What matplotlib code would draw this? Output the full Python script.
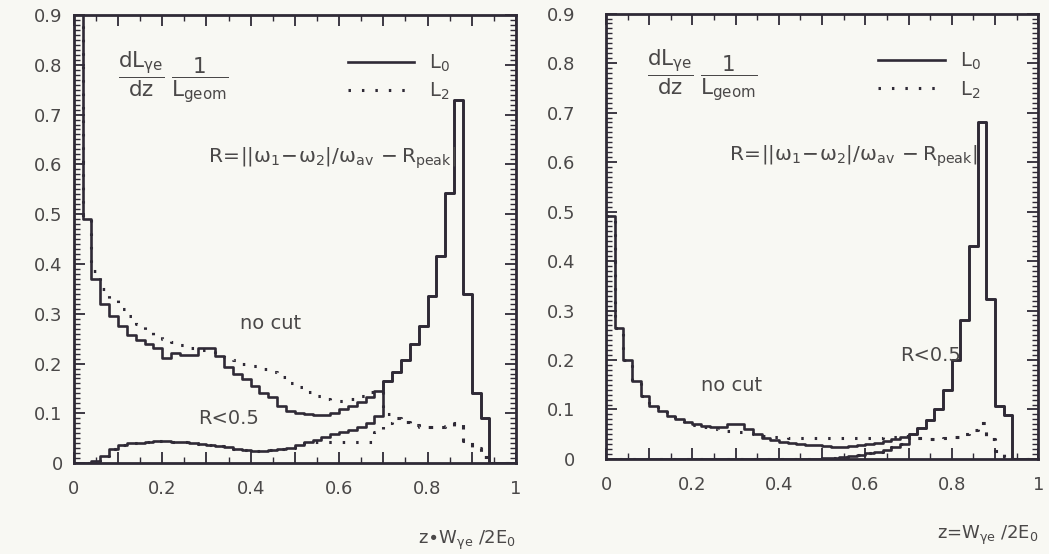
import numpy as np
import matplotlib.pyplot as plt
from matplotlib.ticker import MultipleLocator, FuncFormatter
from matplotlib.lines import Line2D

plt.rcParams['font.family'] = 'DejaVu Sans'
plt.rcParams['mathtext.fontset'] = 'dejavusans'

# 50 bins of width 0.02 in z
edges = np.linspace(0, 1, 51)

# left panel: no cut / R<0.5, L0 (solid) and L2 (dotted)
left_L0_nocut = [1.5, 0.49, 0.37, 0.32, 0.295, 0.275, 0.257, 0.247, 0.24, 0.232,
                 0.212, 0.222, 0.218, 0.218, 0.232, 0.232, 0.215, 0.194, 0.18, 0.168,
                 0.155, 0.14, 0.133, 0.115, 0.105, 0.1, 0.098, 0.097, 0.097, 0.1,
                 0.108, 0.115, 0.122, 0.132, 0.145, 0.164, 0.184, 0.207, 0.24, 0.276,
                 0.336, 0.415, 0.543, 0.73, 0.34, 0.14, 0.09, 0, 0, 0]
left_L2_nocut = [1.5, 0.49, 0.385, 0.35, 0.33, 0.31, 0.295, 0.28, 0.268, 0.258,
                 0.25, 0.243, 0.237, 0.232, 0.228, 0.225, 0.22, 0.213, 0.207, 0.2,
                 0.195, 0.19, 0.183, 0.172, 0.16, 0.152, 0.143, 0.135, 0.128, 0.124,
                 0.125, 0.128, 0.135, 0.142, 0.145, 0.098, 0.09, 0.083, 0.077, 0.073,
                 0.072, 0.072, 0.075, 0.08, 0.045, 0.03, 0.012, 0, 0, 0]
left_L0_cut = [0, 0, 0.004, 0.015, 0.028, 0.036, 0.04, 0.041, 0.043, 0.044,
               0.044, 0.043, 0.042, 0.04, 0.038, 0.036, 0.034, 0.032, 0.029, 0.026,
               0.025, 0.025, 0.026, 0.028, 0.031, 0.036, 0.042, 0.047, 0.053, 0.058,
               0.063, 0.067, 0.072, 0.08, 0.095, 0.164, 0.184, 0.207, 0.24, 0.276,
               0.336, 0.415, 0.543, 0.73, 0.34, 0.14, 0.09, 0, 0, 0]
left_L2_cut = [0, 0, 0.004, 0.015, 0.028, 0.036, 0.04, 0.041, 0.043, 0.044,
               0.044, 0.043, 0.042, 0.04, 0.038, 0.036, 0.034, 0.032, 0.029, 0.026,
               0.025, 0.025, 0.026, 0.028, 0.031, 0.036, 0.04, 0.042, 0.042, 0.042,
               0.042, 0.042, 0.042, 0.042, 0.062, 0.08, 0.09, 0.083, 0.077, 0.073,
               0.072, 0.072, 0.075, 0.08, 0.045, 0.03, 0.012, 0, 0, 0]

# right panel
right_L0_nocut = [0.49, 0.265, 0.2, 0.157, 0.127, 0.108, 0.096, 0.087, 0.08, 0.075,
                  0.071, 0.067, 0.065, 0.065, 0.07, 0.071, 0.06, 0.05, 0.043, 0.039,
                  0.035, 0.033, 0.031, 0.029, 0.028, 0.026, 0.025, 0.025, 0.027, 0.029,
                  0.031, 0.033, 0.036, 0.04, 0.044, 0.05, 0.062, 0.079, 0.1, 0.139,
                  0.2, 0.28, 0.43, 0.68, 0.324, 0.108, 0.089, 0, 0, 0]
right_L2_nocut = [0.49, 0.265, 0.2, 0.157, 0.127, 0.108, 0.095, 0.085, 0.077, 0.072,
                  0.068, 0.064, 0.061, 0.058, 0.056, 0.054, 0.053, 0.05, 0.047, 0.045,
                  0.044, 0.043, 0.043, 0.043, 0.043, 0.043, 0.043, 0.043, 0.043, 0.043,
                  0.043, 0.043, 0.044, 0.045, 0.047, 0.045, 0.042, 0.041, 0.041, 0.042,
                  0.044, 0.05, 0.058, 0.072, 0.04, 0.016, 0.005, 0, 0, 0]
right_L0_cut = [0, 0, 0, 0, 0, 0, 0, 0, 0, 0,
                0, 0, 0, 0, 0, 0, 0, 0, 0, 0,
                0, 0, 0, 0, 0, 0.002, 0.003, 0.005, 0.007, 0.009,
                0.012, 0.015, 0.019, 0.024, 0.03, 0.05, 0.062, 0.079, 0.1, 0.139,
                0.2, 0.28, 0.43, 0.68, 0.324, 0.108, 0.089, 0, 0, 0]
right_L2_cut = [0, 0, 0, 0, 0, 0, 0, 0, 0, 0,
                0, 0, 0, 0, 0, 0, 0, 0, 0, 0,
                0, 0, 0, 0, 0, 0.002, 0.003, 0.005, 0.007, 0.009,
                0.012, 0.015, 0.019, 0.024, 0.03, 0.045, 0.042, 0.041, 0.041, 0.042,
                0.044, 0.05, 0.058, 0.072, 0.04, 0.016, 0.005, 0, 0, 0]

ink = '#2f2a36'
txt = '#4a4848'
bg = '#f8f8f3'
dots = (0, (0.8, 3.6))

fig = plt.figure(figsize=(10.49, 5.54), dpi=100, facecolor=bg)
axL = fig.add_axes([0.0703, 0.164, 0.4216, 0.809])
axR = fig.add_axes([0.5777, 0.1715, 0.412, 0.804])


def hist(ax, vals, ls):
    ax.step(edges, np.append(vals, vals[-1]), where='post', color=ink,
            lw=1.9 if ls == '-' else 2.2, ls=ls, solid_capstyle='butt')


def style(ax, ypad):
    ax.set_facecolor(bg)
    ax.set_xlim(0, 1)
    ax.set_ylim(0, 0.9)
    for s in ax.spines.values():
        s.set_linewidth(2)
        s.set_color(ink)
    ax.xaxis.set_major_locator(MultipleLocator(0.1))
    ax.xaxis.set_minor_locator(MultipleLocator(0.05))
    ax.yaxis.set_major_locator(MultipleLocator(0.1))
    ax.yaxis.set_minor_locator(MultipleLocator(0.01))
    ax.xaxis.set_major_formatter(FuncFormatter(
        lambda v, p: ('%g' % round(v, 1)) if round(v * 10) % 2 == 0 else ''))
    ax.yaxis.set_major_formatter(FuncFormatter(lambda v, p: '%g' % round(v, 1)))
    ax.tick_params(which='both', direction='in', top=True, right=True,
                   color=ink, labelcolor=txt, labelsize=13)
    ax.tick_params(which='major', length=8, width=1.3)
    ax.tick_params(which='minor', length=4, width=1.0)
    ax.tick_params(axis='x', pad=12)
    ax.tick_params(axis='y', pad=ypad)


def annotate(ax, xlab, fx, fy, formx, formy, ncx, ncy, rcx, rcy, legx):
    ax.text(fx, fy, r'$\dfrac{\mathrm{dL_{\gamma e}}}{\mathrm{dz}}\;\dfrac{\mathrm{1}}{\mathrm{L_{geom}}}$',
            transform=ax.transAxes, fontsize=15.5, color=txt, ha='left', va='center')
    ax.text(formx, formy,
            r'$\mathrm{R\!=\!||\omega_1\!-\!\omega_2|/\omega_{av}\,-R_{peak}|}$',
            transform=ax.transAxes, fontsize=14.5, color=txt, ha='right', va='center')
    ax.text(ncx, ncy, 'no cut', transform=ax.transAxes, fontsize=14,
            color=txt, ha='center', va='center')
    ax.text(rcx, rcy, 'R<0.5', transform=ax.transAxes, fontsize=14,
            color=txt, ha='center', va='center')
    handles = [Line2D([], [], color=ink, lw=1.9),
               Line2D([], [], color=ink, lw=2.2, ls=dots)]
    ax.legend(handles, [r'L$_0$', r'L$_2$'], loc='upper left',
              bbox_to_anchor=(legx, 0.955), frameon=False, fontsize=14,
              handlelength=3.4, handletextpad=0.8, labelspacing=0.35,
              labelcolor=txt)
    ax.set_xlabel(xlab, loc='right', fontsize=13, color=txt, labelpad=22)


for vals in [left_L0_cut, left_L0_nocut]:
    hist(axL, vals, '-')
for vals in [left_L2_cut, left_L2_nocut]:
    hist(axL, vals, dots)
for vals in [right_L0_cut, right_L0_nocut]:
    hist(axR, vals, '-')
for vals in [right_L2_cut, right_L2_nocut]:
    hist(axR, vals, dots)

style(axL, 8)
style(axR, 22)
annotate(axL, r'z$\bullet$W$_{\mathrm{\gamma e}}$ /2E$_0$', 0.1, 0.862, 0.865, 0.68,
         0.445, 0.312, 0.35, 0.1, 0.58)
annotate(axR, r'z=W$_{\mathrm{\gamma e}}$ /2E$_0$', 0.095, 0.862, 0.86, 0.68,
         0.29, 0.166, 0.75, 0.233, 0.59)

fig.savefig('out.png', dpi=100, facecolor=bg)
